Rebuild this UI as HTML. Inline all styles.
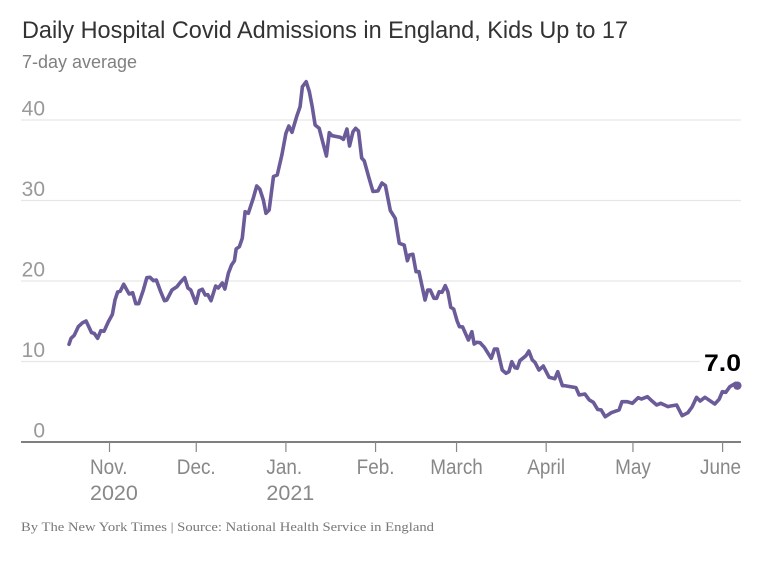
<!DOCTYPE html>
<html lang="en">
<head>
<meta charset="utf-8">
<title>Daily Hospital Covid Admissions in England, Kids Up to 17</title>
<style>
html,body{margin:0;padding:0;background:#fff;}
body{width:769px;height:562px;overflow:hidden;}
svg{display:block;}
text{font-family:"Liberation Sans",Arial,sans-serif;}
</style>
</head>
<body>
<svg id="chart" width="769" height="562" viewBox="0 0 769 562" xmlns="http://www.w3.org/2000/svg">
  <text x="22" y="38" font-size="24" fill="#333" textLength="606" lengthAdjust="spacingAndGlyphs">Daily Hospital Covid Admissions in England, Kids Up to 17</text>
  <text x="22" y="68" font-size="18" fill="#808080" textLength="115" lengthAdjust="spacingAndGlyphs">7-day average</text>
  <g id="grid"></g>
  <g id="yaxis"></g>
  <g id="xaxis"></g>
  <g id="series"></g>
  <text x="21" y="531" font-size="13" fill="#777" style="font-family:'Liberation Serif',serif" textLength="413" lengthAdjust="spacingAndGlyphs">By The New York Times | Source: National Health Service in England</text>
</svg>
<script>
// Days since Nov. 1, 2020
const days = [-14,-13.3,-12.2,-10.8,-9.3,-8.1,-6.2,-5.3,-4.1,-3,-1.9,-0.4,1,1.9,2.8,3.7,4.9,6.8,8,9.1,10.1,11.7,12.9,14,15.2,16.2,17.7,19,19.8,21.6,23.3,24.6,26,27.1,28.1,29.9,31,32.1,33.1,34,35.1,36.7,37.6,39,39.9,41.1,42.2,43.2,43.8,44.9,45.9,46.9,48,49.7,50.9,52,53.2,54.1,55.2,56.7,58,59.6,61,62,63.1,64.7,65.9,66.7,68,69.1,70.1,71.1,72.5,73.4,75,76,77,78.6,79.8,80.9,82.1,83,84.2,85.1,86.1,87.2,88.1,89.6,91.1,92.8,94.2,95.4,97.1,98.8,100.2,101.9,103,103.7,104.9,106,107,109.1,110,110.9,112.2,113.1,114,115,116.1,117,118,119,120.2,121,122.1,124.1,125.3,126.1,127,128.1,129.6,132,133.1,134.1,135.8,137.1,138.1,139.1,140.2,141,141.9,144,145,146.2,147.1,148.5,150,152,154,155,156.6,157.5,161.3,162.4,164.4,165.9,167.3,168.8,170,171.4,173.5,176.2,177.2,179,180.8,182.8,183.9,186,187.6,189.2,190.6,193.1,194,196.1,198,200,201.5,203,204.2,205.9,209.3,210.8,211.9,213.1,214.5,216.5,217.1];
const admissions = [12.14,12.88,13.25,14.32,14.82,15.03,13.58,13.5,12.88,13.83,13.75,14.94,15.86,17.64,18.63,18.72,19.59,18.39,18.55,17.18,17.18,18.88,20.41,20.46,20.04,20.12,18.67,17.55,17.64,18.88,19.29,19.88,20.41,19.13,18.88,17.23,18.8,18.97,18.26,18.3,17.55,19.38,19.13,19.75,19,20.96,21.99,22.52,23.98,24.26,25.3,28.61,28.41,30.27,31.8,31.39,30.06,28.41,28.82,32.98,33.17,35.65,38.35,39.25,38.47,40.41,41.65,44.14,44.76,43.52,41.65,39.38,38.97,37.73,35.53,38.42,38.05,37.93,37.85,37.6,38.88,36.77,38.55,38.97,38.63,35.28,34.91,32.96,31.12,31.18,32.17,31.86,28.76,27.79,24.68,24.47,22.52,23.23,23.32,21.16,21.16,17.64,18.88,18.88,17.85,17.85,18.67,18.6,19.42,18.67,16.73,16.52,15.03,14.32,14.29,12.67,13.7,12.17,12.39,12.34,11.76,10.4,11.55,11.55,8.94,8.53,8.73,9.98,9.23,9.16,10.1,10.72,11.3,10.19,9.9,8.94,9.44,8.04,7.86,8.73,6.99,6.99,6.75,5.84,5.96,5.22,4.93,4.04,3.98,3.14,3.64,3.98,5.01,5.01,4.81,5.5,5.34,5.63,5.09,4.6,4.81,4.39,4.47,4.6,3.27,3.64,4.39,5.55,5.09,5.55,4.72,5.3,6.25,6.17,6.87,7.29,7];
const yTicks = [0,10,20,30,40];
const monthDays = [0,30,61,92,120,151,181,212];
const monthLabels = ["Nov.","Dec.","Jan.","Feb.","March","April","May","June"];
const yearLabels = ["2020","","2021","","","","",""];
const lastLabel = "7.0";

const NS = "http://www.w3.org/2000/svg";
const xScale = d => 109.5 + 2.892 * d;
const yScale = v => 442 - 8.05 * v;
const make = (tag, parent, props, txt) => {
  const el = document.createElementNS(NS, tag);
  for (const k in props) el.setAttribute(k, props[k]);
  if (txt !== undefined) el.textContent = txt;
  parent.appendChild(el);
  return el;
};

const grid = document.getElementById('grid');
const yaxis = document.getElementById('yaxis');
const xaxis = document.getElementById('xaxis');
const series = document.getElementById('series');

yTicks.forEach(t => {
  if (t !== 0) {
    const g = make('line', grid, {x1: 21, x2: t === 10 ? 700 : 741, y1: yScale(t), y2: yScale(t), stroke: '#e6e6e6', 'stroke-width': 1.2});
    
    
  }
  const lab = make('text', yaxis, {x: 45, y: yScale(t) - 4.5, 'text-anchor': 'end', 'font-size': 21, fill: '#999'}, t);
  
  
});

const baseline = make('line', xaxis, {x1: 21, x2: 741, y1: yScale(0), y2: yScale(0), stroke: '#555', 'stroke-width': 1.6});



monthDays.forEach((d, i) => {
  const x = xScale(d);
  const tick = make('line', xaxis, {x1: x, x2: x, y1: yScale(0), y2: yScale(0) + 10, stroke: '#888', 'stroke-width': 1.2});
  
  
  const hasYear = yearLabels[i] !== "";
  const isLast = i === monthDays.length - 1;
  const lx = hasYear ? x - 19.5 : (isLast ? 741 : x);
  const anchor = hasYear ? 'start' : (isLast ? 'end' : 'middle');
  const lab = make('text', xaxis, {x: lx, y: 474, 'text-anchor': anchor, 'font-size': 21, fill: '#888'}, monthLabels[i]);
  lab.setAttribute('textLength', (lab.getComputedTextLength() * 0.9).toFixed(1));
  lab.setAttribute('lengthAdjust', 'spacingAndGlyphs');
  
  
  if (hasYear) {
    const yr = make('text', xaxis, {x: lx, y: 500, 'font-size': 21.5, fill: '#888'}, yearLabels[i]);
    
    
  }
});

const pathD = days.map((d, i) => (i ? 'L' : 'M') + xScale(d).toFixed(2) + ' ' + yScale(admissions[i]).toFixed(2)).join(' ');
const line = make('path', series, {d: pathD, fill: 'none', stroke: '#6b5b99', 'stroke-width': 3.6, 'stroke-linejoin': 'round', 'stroke-linecap': 'round'});



const lastI = days.length - 1;
const dot = make('circle', series, {cx: xScale(days[lastI]), cy: yScale(admissions[lastI]), r: 4.2, fill: '#6b5b99'});



const endLabel = make('text', series, {x: 741, y: 371, 'text-anchor': 'end', 'font-size': 24, 'font-weight': 700, fill: '#000', textLength: 37, lengthAdjust: 'spacingAndGlyphs'}, lastLabel);


</script>
</body>
</html>
